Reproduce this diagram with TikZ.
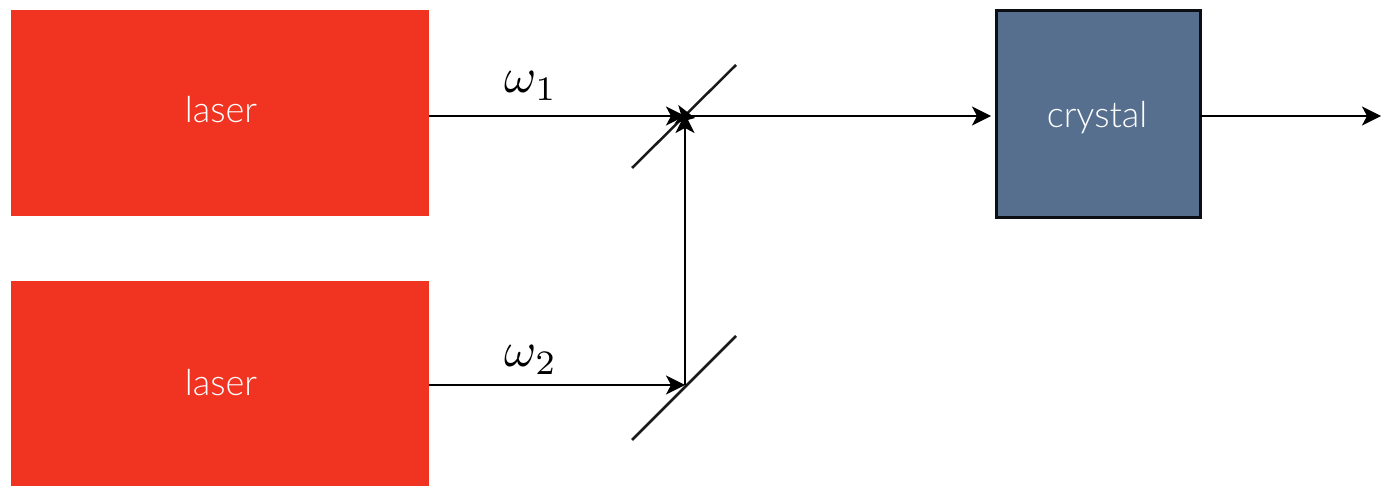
\documentclass[tikz,border=0pt]{standalone}
\usepackage{fontspec}
\setmainfont{Lato Light}[BoldFont=Lato]
\usetikzlibrary{arrows.meta}
\definecolor{laserred}{HTML}{F13421}
\definecolor{crystalblue}{HTML}{566F8E}
\definecolor{edgeblack}{HTML}{0B0F14}
\tikzset{
  x=1pt,y=-1pt,
  box/.style={inner sep=0pt,outer sep=0pt,anchor=north west},
  laserbox/.style={box,fill=laserred,minimum width=418pt,minimum height=206pt},
  crystalbox/.style={box,fill=crystalblue,draw=edgeblack,line width=3pt,minimum width=204pt,minimum height=207pt},
  boxtext/.style={text=white,inner sep=0pt,font=\fontsize{36}{40}\selectfont},
  beam/.style={draw=black,line width=2pt,-{Stealth[length=19pt,width=19pt,inset=5pt]}},
  mirror/.style={draw=black!90,line width=2.5pt},
  freq/.style={inner sep=0pt,scale=4.9,anchor=center},
}
\begin{document}
\begin{tikzpicture}
\useasboundingbox (0,0) rectangle (1381,486);
\node[laserbox] (L1) at (11,10) {};
\node[boxtext] (L1t) at (221,110) {laser};
\node[laserbox] (L2) at (11,281) {};
\node[boxtext] (L2t) at (221,383) {laser};
\node[crystalbox] (C) at (996,11) {};
\node[boxtext] (Ct) at (1097,118) {crystal};
\coordinate (m1a) at (632,168);
\coordinate (m1b) at (736,65);
\coordinate (m2a) at (632,440);
\coordinate (m2b) at (736,336);
\coordinate (h1) at (685,116);
\coordinate (h1in) at (695,118);
\coordinate (v1) at (685,114);
\coordinate (h2) at (685,385);
\coordinate (c1) at (429,116);
\coordinate (c2) at (429,385);
\coordinate (cin) at (991,116);
\coordinate (cout) at (1200,116);
\coordinate (endp) at (1381,116);
\draw[mirror] (m1a) -- (m1b);
\draw[mirror] (m2a) -- (m2b);
\draw[beam] (c1) -- (h1);
\draw[draw=black,line width=0pt,-{Stealth[length=19pt,width=19pt,inset=5pt]}] (h1) -- (h1in);
\draw[beam] (h1) -- (cin);
\draw[beam] (h2) -- (v1);
\draw[beam] (c2) -- (h2);
\draw[beam] (cout) -- (endp);
\node[freq] (w1) at (531,86) {$\omega_1$};
\node[freq] (w2) at (531,360) {$\omega_2$};
\end{tikzpicture}
\end{document}
